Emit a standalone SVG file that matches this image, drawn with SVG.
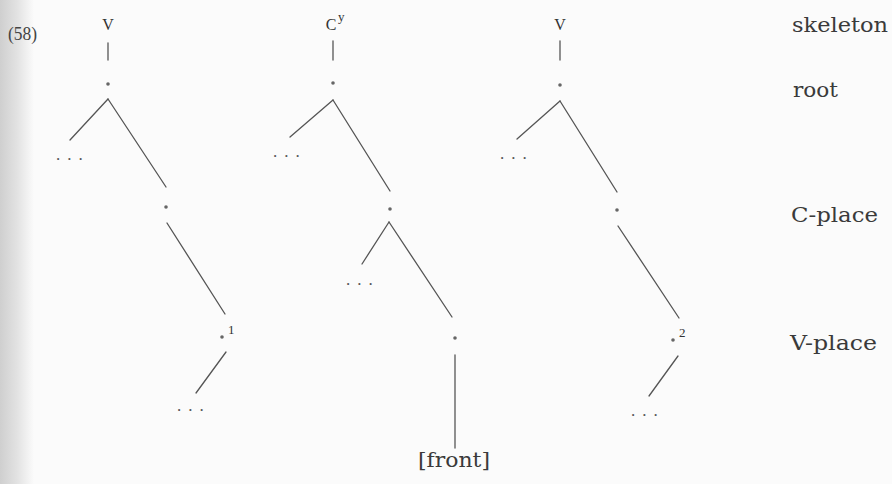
<svg xmlns="http://www.w3.org/2000/svg" width="892" height="484" viewBox="0 0 892 484">
  <defs>
    <linearGradient id="edge" x1="0" y1="0" x2="1" y2="0">
      <stop offset="0" stop-color="#cfcfcf"/>
      <stop offset="0.5" stop-color="#e2e2e2"/>
      <stop offset="1" stop-color="#fbfbfb"/>
    </linearGradient>
  </defs>
  <style>
    .ln { stroke: #555; stroke-width: 1.3; fill: none; stroke-linecap: round; }
    .dot { fill: #666; }
    .lbl { font-family: "DejaVu Serif", "Liberation Serif", serif; font-size: 21px; fill: #3a3a3a; }
    .seg { font-family: "Liberation Serif", "DejaVu Serif", serif; font-size: 16px; fill: #333; text-anchor: middle; }
    .sup { font-family: "Liberation Serif", "DejaVu Serif", serif; font-size: 13px; fill: #333; }
    .ell { font-family: "Liberation Serif", serif; font-size: 17px; fill: #555; letter-spacing: 7px; }
  </style>
  <rect width="892" height="484" fill="#fbfbfb"/>
  <rect x="0" y="0" width="34" height="484" fill="url(#edge)"/>
  <text x="8" y="40" font-family="Liberation Serif, serif" font-size="19" fill="#444" textLength="29" lengthAdjust="spacingAndGlyphs">(58)</text>

  <g id="connectors">
    <!-- tree 1 -->
    <line class="ln" x1="108" y1="43" x2="108" y2="60"/>
    <line class="ln" x1="108" y1="99" x2="70" y2="140"/>
    <line class="ln" x1="108" y1="99" x2="166" y2="187"/>
    <line class="ln" x1="167" y1="223" x2="225" y2="314"/>
    <line class="ln" x1="226" y1="352" x2="196" y2="393"/>
    <!-- tree 2 -->
    <line class="ln" x1="333" y1="41" x2="333" y2="60"/>
    <line class="ln" x1="333" y1="100" x2="290" y2="137"/>
    <line class="ln" x1="333" y1="100" x2="390" y2="191"/>
    <line class="ln" x1="389" y1="222" x2="362" y2="264"/>
    <line class="ln" x1="389" y1="222" x2="452" y2="317"/>
    <line class="ln" x1="455" y1="355" x2="455" y2="448"/>
    <!-- tree 3 -->
    <line class="ln" x1="560" y1="41" x2="560" y2="60"/>
    <line class="ln" x1="560" y1="101" x2="517" y2="139"/>
    <line class="ln" x1="560" y1="101" x2="617" y2="192"/>
    <line class="ln" x1="618" y1="226" x2="679" y2="318"/>
    <line class="ln" x1="678" y1="356" x2="649" y2="396"/>
  </g>

  <!-- tree 1 -->
  <g id="t1-skel"><text class="seg" x="108" y="30">V</text></g>
  <g id="t1-root"><circle class="dot" cx="108" cy="84" r="1.8"/></g>
  <g id="t1-ell1"><text class="ell" x="56" y="160">...</text></g>
  <g id="t1-cplace"><circle class="dot" cx="166" cy="207" r="1.8"/></g>
  <g id="t1-vplace"><circle class="dot" cx="222" cy="337" r="1.8"/><text class="sup" x="228" y="334">1</text></g>
  <g id="t1-ell2"><text class="ell" x="177" y="411">...</text></g>

  <!-- tree 2 -->
  <g id="t2-skel"><text class="seg" x="331" y="30">C</text><text class="sup" x="338" y="21">y</text></g>
  <g id="t2-root"><circle class="dot" cx="333" cy="83" r="1.8"/></g>
  <g id="t2-ell1"><text class="ell" x="273" y="157">...</text></g>
  <g id="t2-cplace"><circle class="dot" cx="390" cy="209" r="1.8"/></g>
  <g id="t2-ell2"><text class="ell" x="346" y="285">...</text></g>
  <g id="t2-vplace"><circle class="dot" cx="455" cy="338" r="1.8"/></g>
  <g id="t2-front"><text class="lbl" x="454" y="467" text-anchor="middle" font-size="20" textLength="72" lengthAdjust="spacingAndGlyphs">[front]</text></g>

  <!-- tree 3 -->
  <g id="t3-skel"><text class="seg" x="560" y="30">V</text></g>
  <g id="t3-root"><circle class="dot" cx="560" cy="85" r="1.8"/></g>
  <g id="t3-ell1"><text class="ell" x="500" y="159">...</text></g>
  <g id="t3-cplace"><circle class="dot" cx="617" cy="210" r="1.8"/></g>
  <g id="t3-vplace"><circle class="dot" cx="673" cy="340" r="1.8"/><text class="sup" x="679" y="337">2</text></g>
  <g id="t3-ell2"><text class="ell" x="631" y="416">...</text></g>

  <!-- tier labels -->
  <g id="lbl-skeleton"><text class="lbl" x="792" y="32" textLength="96" lengthAdjust="spacingAndGlyphs">skeleton</text></g>
  <g id="lbl-root"><text class="lbl" x="793" y="97" textLength="45" lengthAdjust="spacingAndGlyphs">root</text></g>
  <g id="lbl-cplace"><text class="lbl" x="791" y="222" textLength="87" lengthAdjust="spacingAndGlyphs">C-place</text></g>
  <g id="lbl-vplace"><text class="lbl" x="790" y="350" textLength="87" lengthAdjust="spacingAndGlyphs">V-place</text></g>
</svg>
